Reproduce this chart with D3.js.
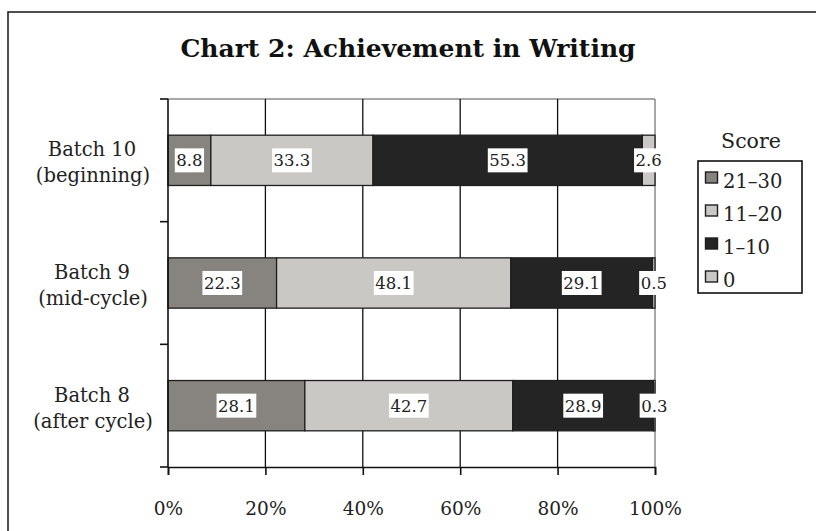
<!DOCTYPE html>
<html><head><meta charset="utf-8">
<script src="https://cdn.jsdelivr.net/npm/d3@7"></script>
<style>
html,body{margin:0;padding:0;background:#fff;}
svg{display:block;font-family:"DejaVu Serif",Georgia,serif;}
</style></head>
<body><svg id="chart" width="816" height="531"></svg>
<script>
const categories = ["Batch 10|(beginning)", "Batch 9|(mid-cycle)", "Batch 8|(after cycle)"];
const seriesNames = ["21–30", "11–20", "1–10", "0"];
const s2130 = [8.8, 22.3, 28.1];
const s1120 = [33.3, 48.1, 42.7];
const s110 = [55.3, 29.1, 28.9];
const s0 = [2.6, 0.5, 0.3];
const tickValues = [0, 20, 40, 60, 80, 100];
const tickLabels = ["0%", "20%", "40%", "60%", "80%", "100%"];
const colors = ["#87847f", "#c9c8c4", "#242424", "#c9c8c4"];
const title = "Chart 2: Achievement in Writing";
const legendTitle = "Score";

const series = [s2130, s1120, s110, s0];
const rows = categories.map((c, i) => {
  const o = {cat: c};
  seriesNames.forEach((n, j) => o[n] = series[j][i]);
  return o;
});
const stacked = d3.stack().keys(seriesNames)(rows);

const svg = d3.select("#chart");
const L = 168, R = 655, T = 99, B = 467;
const x = d3.scaleLinear().domain([0, 100]).range([L, R]);
const y = d3.scaleBand().domain(categories).range([T, B]).paddingInner(0.59).paddingOuter(0.295);
const yTicks = d3.scaleBand().domain(categories).range([T, B]);

// outer frame
svg.append("rect").attr("x", 8).attr("y", 12).attr("width", 830).attr("height", 540)
  .attr("fill", "none").attr("stroke", "#222").attr("stroke-width", 1.6);

// title
svg.append("text").attr("x", 408).attr("y", 57).attr("text-anchor", "middle")
  .attr("font-weight", "bold").attr("font-size", 25).attr("fill", "#111").text(title);

// plot border top/right (gray)
svg.append("line").attr("x1", L).attr("x2", R).attr("y1", T).attr("y2", T)
  .attr("stroke", "#8a8a8a").attr("stroke-width", 1.5);
svg.append("line").attr("x1", R).attr("x2", R).attr("y1", T).attr("y2", B)
  .attr("stroke", "#8a8a8a").attr("stroke-width", 1.5);

// vertical gridlines
svg.append("g").selectAll("line").data(tickValues.filter(v => v > 0 && v < 100)).join("line")
  .attr("x1", d => x(d)).attr("x2", d => x(d)).attr("y1", T).attr("y2", B)
  .attr("stroke", "#111").attr("stroke-width", 1.3);

// bars
const gBars = svg.append("g");
stacked.forEach((layer, j) => {
  gBars.selectAll(null).data(layer).join("rect")
    .attr("x", d => x(d[0])).attr("width", d => x(d[1]) - x(d[0]))
    .attr("y", d => y(d.data.cat)).attr("height", y.bandwidth())
    .attr("fill", colors[j]).attr("stroke", "#1e1e1e").attr("stroke-width", 1.3);
});

// data labels
const gLab = svg.append("g");
stacked.forEach((layer, j) => {
  layer.forEach(d => {
    const v = d[1] - d[0];
    const cx = x((d[0] + d[1]) / 2);
    const cy = y(d.data.cat) + y.bandwidth() / 2;
    const g = gLab.append("g");
    const t = g.append("text").attr("x", cx).attr("y", cy + 6).attr("text-anchor", "middle")
      .attr("font-size", 16.5).attr("fill", "#222").text(v.toFixed(1));
    const bb = t.node().getBBox();
    g.insert("rect", "text").attr("x", bb.x - 1.5).attr("y", cy - 12).attr("width", bb.width + 3)
      .attr("height", 24).attr("fill", "#fff");
  });
});

// x axis
const xAxis = d3.axisBottom(x).tickValues(tickValues).tickFormat((d, i) => tickLabels[i]).tickSize(8).tickPadding(0);
const gx = svg.append("g").attr("transform", `translate(0,${B})`).call(xAxis);
gx.select(".domain").attr("stroke", "#111").attr("stroke-width", 1.6);
gx.selectAll(".tick line").attr("stroke", "#111").attr("stroke-width", 1.6);
gx.selectAll(".tick text").attr("font-family", "DejaVu Serif").attr("font-size", 18.5).attr("fill", "#222")
  .attr("dy", null).attr("y", 48);

// y axis line and ticks
svg.append("line").attr("x1", L).attr("x2", L).attr("y1", T).attr("y2", B)
  .attr("stroke", "#111").attr("stroke-width", 1.6);
const yTickPos = categories.map(c => yTicks(c)).concat([B]);
svg.append("g").selectAll("line").data(yTickPos).join("line")
  .attr("x1", L - 8).attr("x2", L).attr("y1", d => d).attr("y2", d => d)
  .attr("stroke", "#111").attr("stroke-width", 1.6);

// category labels
const gCat = svg.append("g");
categories.forEach(c => {
  const parts = c.split("|");
  const cy = y(c) + y.bandwidth() / 2;
  const t = gCat.append("text").attr("text-anchor", "middle").attr("font-size", 19.5).attr("fill", "#222");
  t.append("tspan").attr("x", 92).attr("y", cy - 4).text(parts[0]);
  t.append("tspan").attr("x", 93).attr("y", cy + 22).text(parts[1]);
});

// legend
svg.append("text").attr("x", 751).attr("y", 148).attr("text-anchor", "middle")
  .attr("font-size", 20.5).attr("fill", "#222").text(legendTitle);
svg.append("rect").attr("x", 698).attr("y", 161).attr("width", 104).attr("height", 132)
  .attr("fill", "#fff").attr("stroke", "#111").attr("stroke-width", 1.6);
const ly = d3.scaleBand().domain(seriesNames).range([172, 304]);
const gLeg = svg.append("g");
seriesNames.forEach((n, j) => {
  gLeg.append("rect").attr("x", 705.5).attr("y", ly(n)).attr("width", 12).attr("height", 11)
    .attr("fill", colors[j]).attr("stroke", "#1e1e1e").attr("stroke-width", 1.4);
  gLeg.append("text").attr("x", 723).attr("y", ly(n) + 16).attr("font-size", 19.5).attr("fill", "#222").text(n);
});
</script></body></html>
